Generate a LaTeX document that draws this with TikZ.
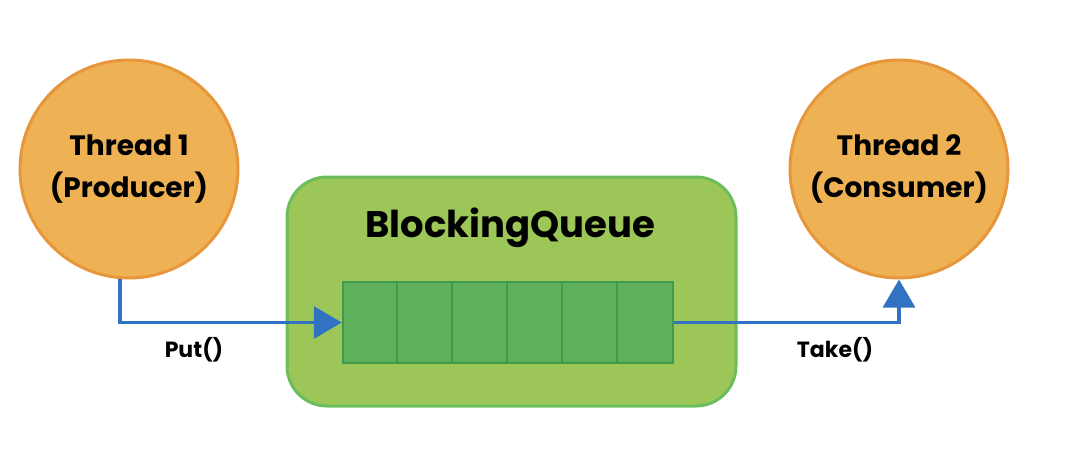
\documentclass[tikz,border=0pt]{standalone}
\usepackage{fontspec}
\setmainfont{Poppins}
\usetikzlibrary{arrows.meta,calc}
\definecolor{orfill}{HTML}{EEB254}
\definecolor{ordraw}{HTML}{E8963C}
\definecolor{grfill}{HTML}{9CC657}
\definecolor{grdraw}{HTML}{6CBE5C}
\definecolor{qfill}{HTML}{5EB15A}
\definecolor{qdraw}{HTML}{3F9A4C}
\definecolor{flowc}{HTML}{3172C2}
\tikzset{
  thread/.style={circle,fill=orfill,draw=ordraw,line width=3pt,minimum size=218pt,
    align=center,font=\fontsize{28}{42}\selectfont\bfseries,inner sep=0pt},
  flow/.style={draw=flowc,line width=3.2pt,-{Triangle[width=32pt,length=28pt]}},
  lbl/.style={font=\fontsize{22}{24}\selectfont\bfseries,inner sep=0pt},
}
\begin{document}
\begin{tikzpicture}[x=1pt,y=-1pt]
\useasboundingbox (0,0) rectangle (1068,476);
\node[draw=grdraw,fill=grfill,line width=3pt,rounded corners=40pt,minimum width=449pt,minimum height=229pt] (box) at (511.5,291.5) {};
\node[font=\fontsize{37}{40}\selectfont\bfseries,inner sep=0pt] (title) at (510,228) {BlockingQueue};
\node[draw=qdraw,fill=qfill,line width=2.5pt,minimum width=330pt,minimum height=81pt,inner sep=0pt] (q) at (508,322.5) {};
\foreach \i in {1,...,5}{
  \draw[qdraw,line width=2.5pt] ($(q.north west)+(55*\i,0)$) -- ($(q.south west)+(55*\i,0)$);
}
\node[thread] (t1) at (129,169) {Thread 1\\(Producer)};
\node[thread] (t2) at (899,169) {Thread 2\\(Consumer)};
\coordinate (p0) at ($(t1.south)+(-9,-1)$);
\draw[flow] (p0) |- (q.west);
\draw[flow] (q.east) -| (t2.south);
\node[lbl] (put) at (194,350) {Put()};
\node[lbl] (take) at (835,350) {Take()};
\end{tikzpicture}
\end{document}
